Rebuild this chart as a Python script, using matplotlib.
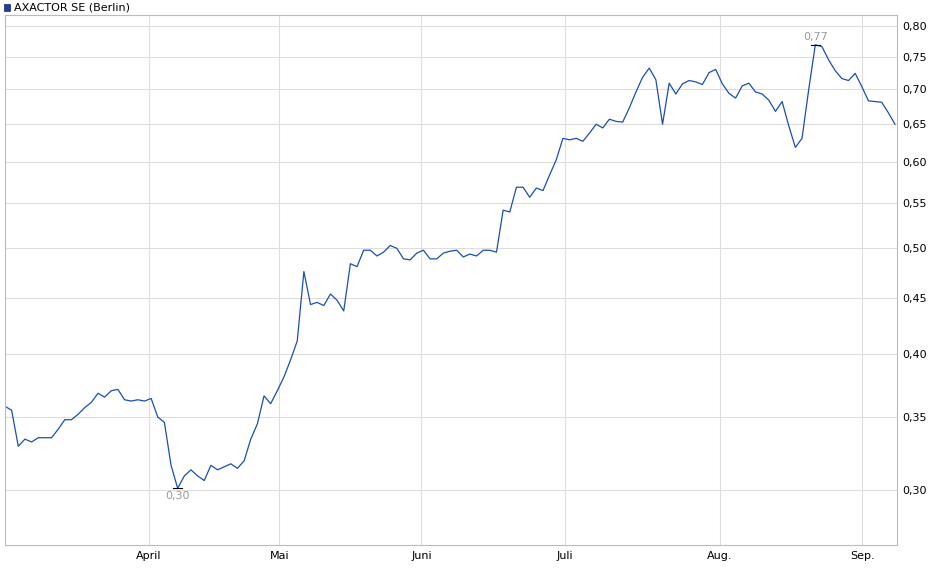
import matplotlib
matplotlib.use("Agg")
import matplotlib.pyplot as plt
from matplotlib.ticker import FixedLocator, NullLocator
import numpy as np

prices = [0.358,0.355,0.329,0.334,0.332,0.335,0.335,0.335,0.341,0.348,0.348,0.352,0.357,0.361,0.368,0.365,0.370,0.371,
          0.363,0.362,0.363,0.362,0.364,0.350,0.346,0.316,0.301,0.309,0.313,0.309,0.306,0.316,0.313,0.315,0.317,0.314,
          0.319,0.334,0.345,0.366,0.360,0.370,0.381,0.395,0.411,0.476,0.444,0.446,0.443,0.454,0.448,0.438,0.484,0.481,
          0.498,0.498,0.492,0.496,0.503,0.500,0.489,0.488,0.495,0.498,0.489,0.489,0.495,0.497,0.498,0.491,0.494,0.492,
          0.498,0.498,0.496,0.542,0.540,0.569,0.569,0.557,0.568,0.565,0.584,0.603,0.631,0.629,0.631,0.627,0.638,0.650,
          0.645,0.657,0.654,0.653,0.673,0.696,0.718,0.732,0.714,0.650,0.709,0.693,0.708,0.713,0.711,0.707,0.725,0.730,
          0.708,0.694,0.687,0.705,0.709,0.696,0.693,0.684,0.668,0.682,0.648,0.619,0.631,0.699,0.769,0.766,0.745,0.728,
          0.716,0.713,0.724,0.704,0.683,0.682,0.681,0.666,0.650]
month_labels = ["April", "Mai", "Juni", "Juli", "Aug.", "Sep."]
month_pos = [21.7, 41.3, 62.7, 84.3, 107.6, 129.1]
y_ticks = [0.30, 0.35, 0.40, 0.45, 0.50, 0.55, 0.60, 0.65, 0.70, 0.75, 0.80]

x = np.arange(len(prices))
fig = plt.figure(figsize=(9.4, 5.79), dpi=100)
ax = fig.add_axes([5/940, 1-545/579, 892/940, 530/579])
ax.plot(x, prices, color="#1a4fb0", lw=0.9)
ax.set_yscale("log")
ax.set_ylim(0.267, 0.819)
ax.set_xlim(0, len(prices) - 0.7)
ax.yaxis.set_major_locator(FixedLocator(y_ticks))
ax.yaxis.set_minor_locator(NullLocator())
ax.set_yticklabels([f"{v:.2f}".replace(".", ",") for v in y_ticks])
ax.yaxis.tick_right()
ax.set_xticks(month_pos)
ax.set_xticklabels(month_labels)
ax.tick_params(labelsize=8, length=0, pad=4)
ax.grid(True, color="#dddddd", lw=0.8)
for s in ax.spines.values():
    s.set_color("#bbbbbb")
    s.set_linewidth(0.8)

imax = int(np.argmax(prices)); imin = int(np.argmin(prices))
ax.plot([imax-0.7, imax+0.7], [prices[imax]]*2, color="black", lw=0.8)
ax.plot([imin-0.7, imin+0.7], [prices[imin]]*2, color="black", lw=0.8)
ax.annotate(f"{prices[imax]:.2f}".replace(".", ","), (imax, prices[imax]), xytext=(0, 2),
            textcoords="offset points", ha="center", va="bottom", fontsize=8, color="#999999")
ax.annotate(f"{prices[imin]:.2f}".replace(".", ","), (imin, prices[imin]), xytext=(0, -2),
            textcoords="offset points", ha="center", va="top", fontsize=8, color="#999999")

fig.patches.append(plt.Rectangle((4/940, 1-11/579), 6/940, 7/579, transform=fig.transFigure,
                                 facecolor="#1a3f9a", edgecolor="#102a6a", lw=0.5))
fig.text(14/940, 1-7.5/579, "AXACTOR SE (Berlin)", fontsize=8, va="center", ha="left")
fig.savefig("out.png", dpi=100)
